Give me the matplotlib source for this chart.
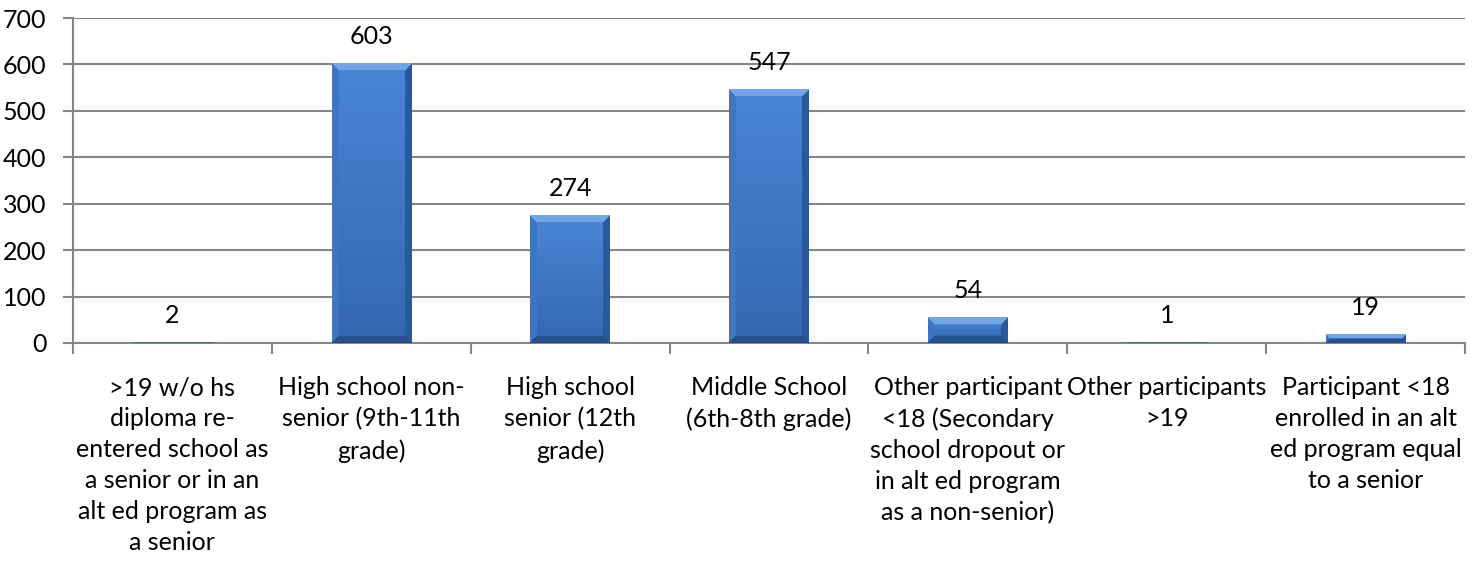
import matplotlib
matplotlib.use("Agg")
import matplotlib.pyplot as plt
import numpy as np

plt.rcParams['font.family'] = ['Lato', 'DejaVu Sans']

categories = [
    ">19 w/o hs\ndiploma re-\nentered school as\na senior or in an\nalt ed program as\na senior",
    "High school non-\nsenior (9th-11th\ngrade)",
    "High school\nsenior (12th\ngrade)",
    "Middle School\n(6th-8th grade)",
    "Other participant\n<18 (Secondary\nschool dropout or\nin alt ed program\nas a non-senior)",
    "Other participants\n>19",
    "Participant <18\nenrolled in an alt\ned program equal\nto a senior",
]
values = [2, 603, 274, 547, 54, 1, 19]
y_ticks = [0, 100, 200, 300, 400, 500, 600, 700]

W, H, DPI = 14.75, 5.61, 100
fig = plt.figure(figsize=(W, H), dpi=DPI)
ax = fig.add_axes([73 / 1475, 1 - 343 / 561, (1465 - 73) / 1475, (343 - 18) / 561])

n = len(categories)
ax.set_xlim(-0.5, n - 0.5)
ax.set_ylim(0, 700)

grid_c = '#868686'
ax.set_yticks(y_ticks)
ax.yaxis.grid(True, color=grid_c, linewidth=1.5, zorder=0)
ax.set_axisbelow(True)
for s in ['top', 'right']:
    ax.spines[s].set_visible(False)
for s in ['left', 'bottom']:
    ax.spines[s].set_color(grid_c)
    ax.spines[s].set_linewidth(1.5)

fs = 18
ax.set_xticks(np.arange(n + 1) - 0.5)
ax.set_xticklabels([])
ax.set_xticks(np.arange(n), minor=True)
ax.set_xticklabels(categories, minor=True, fontsize=fs, linespacing=1.42)
ax.tick_params(axis='x', which='major', length=8, width=1.5, color=grid_c)
ax.tick_params(axis='x', which='minor', length=0, pad=24)
ax.tick_params(axis='y', length=7, width=1.5, color=grid_c, labelsize=fs, pad=12)

bw = 0.4
bars = ax.bar(np.arange(n), values, width=bw, color='none', edgecolor='none', zorder=3)

# bevelled gradient fill for each bar
def hexrgb(h):
    return np.array([int(h[i:i + 2], 16) / 255 for i in (1, 3, 5)])

face_top = hexrgb('#4a86d6')
face_bot = hexrgb('#3467b0')
bev_top = hexrgb('#72a5e6')
bev_left = hexrgb('#3d76c4')
bev_right = hexrgb('#2b5a9a')
bev_bot = hexrgb('#27518c')
bev = 7

for b, v in zip(bars, values):
    x0 = b.get_x()
    x1 = x0 + b.get_width()
    p0 = ax.transData.transform((x0, 0))
    p1 = ax.transData.transform((x1, v))
    wpx = max(2, int(round(p1[0] - p0[0])))
    hpx = max(2, int(round(p1[1] - p0[1])))
    img = np.zeros((hpx, wpx, 3))
    rr, cc = np.mgrid[0:hpx, 0:wpx]
    t = rr / max(hpx - 1, 1)
    img[:] = (face_top[None, None, :] * (1 - t[..., None]) + face_bot[None, None, :] * t[..., None])
    d_top = rr
    d_bot = hpx - 1 - rr
    d_l = cc
    d_r = wpx - 1 - cc
    dmin = np.minimum.reduce([d_top, d_bot, d_l, d_r])
    b_eff = min(bev, hpx // 2, wpx // 2)
    inb = dmin < b_eff
    img[inb & (d_l == dmin)] = bev_left
    img[inb & (d_r == dmin)] = bev_right
    img[inb & (d_bot == dmin)] = bev_bot
    img[inb & (d_top == dmin)] = bev_top
    if hpx <= 3:
        img[:] = hexrgb('#4a6f98')
    # soft shadow below bar
    ax.add_patch(plt.Rectangle((x0 + 0.01, -3), x1 - x0 - 0.02, 3, color='#d9d9d9',
                               zorder=2, clip_on=False, linewidth=0))
    ax.imshow(img, extent=(x0, x1, 0, v), aspect='auto', interpolation='bilinear',
              zorder=3.5, origin='upper')
    ax.annotate(str(v), (b.get_x() + b.get_width() / 2, v), xytext=(0, 14),
                textcoords='offset points', ha='center', va='baseline', fontsize=fs)

ax.set_xlim(-0.5, n - 0.5)
ax.set_ylim(0, 700)

fig.savefig('out.png', dpi=DPI)
